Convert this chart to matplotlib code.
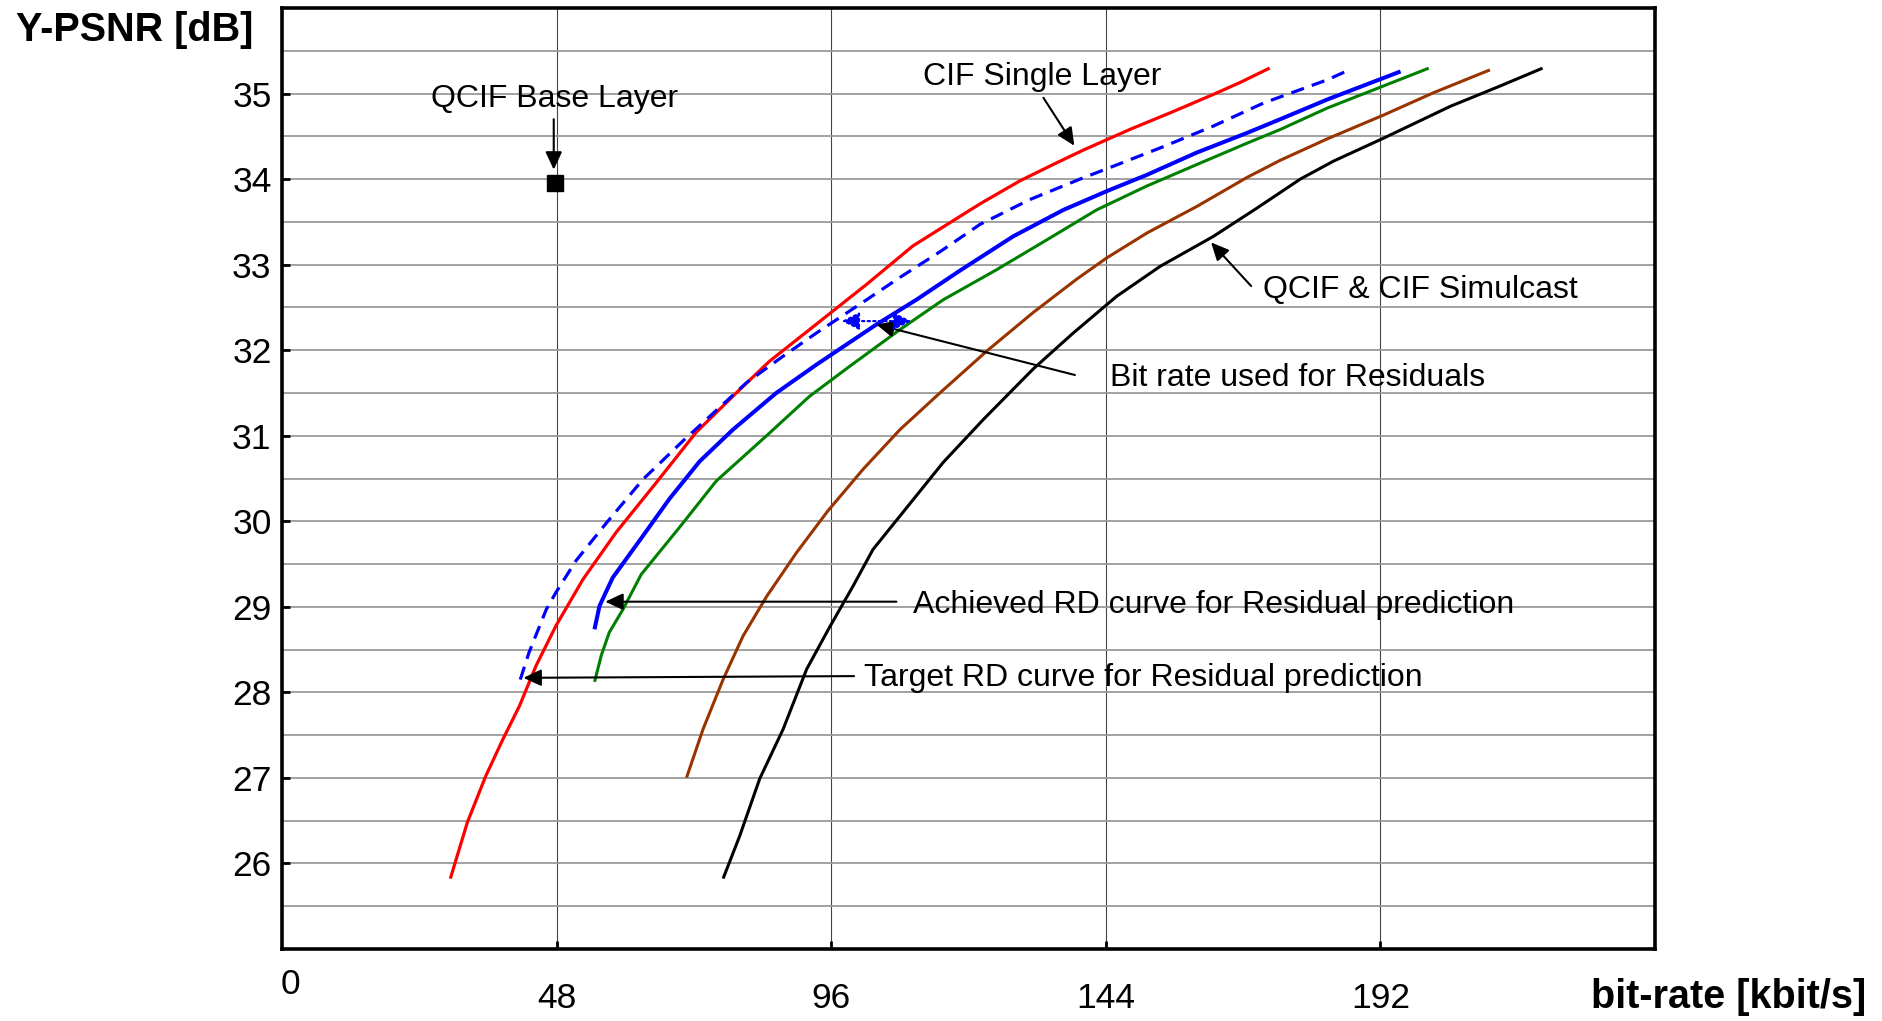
import matplotlib
matplotlib.use('Agg')
import matplotlib.pyplot as plt
import numpy as np

# curves: bit-rate [kbit/s] / Y-PSNR [dB]
red_x = [29.5, 32.4, 35.6, 38.6, 41.5, 44.4, 47.9, 52.6, 58.4, 65.4, 72.4, 79.4, 85.2, 92.2,
         102.2, 110.3, 122.0, 129.0, 135.4, 140.1, 148.2, 155.8, 162.8, 167.5, 172.4]
red_y = [25.84, 26.48, 27.02, 27.45, 27.84, 28.31, 28.78, 29.32, 29.87, 30.45, 31.04, 31.50, 31.87, 32.24,
         32.77, 33.22, 33.71, 33.98, 34.19, 34.34, 34.58, 34.79, 34.99, 35.13, 35.29]

target_x = [41.65, 43.2, 46.2, 47.9, 51.4, 56.7, 63.1, 70.1, 81.2, 87.6, 93.4, 102.2, 108.0, 115.0,
            122.0, 130.7, 139.5, 145.3, 154.1, 162.8, 171.6, 182.7, 187.0]
target_y = [28.15, 28.47, 28.97, 29.17, 29.54, 29.98, 30.49, 30.94, 31.62, 31.93, 32.20, 32.59, 32.85, 33.15,
            33.47, 33.76, 34.00, 34.15, 34.38, 34.62, 34.89, 35.16, 35.29]

achieved_x = [54.7, 55.5, 57.8, 63.1, 67.7, 73.0, 78.8, 86.4, 93.4, 99.2, 103.9, 110.9, 118.5, 127.8,
              136.6, 144.2, 151.2, 159.9, 168.7, 174.5, 182.7, 195.2]
achieved_y = [28.76, 29.01, 29.34, 29.83, 30.26, 30.70, 31.07, 31.50, 31.83, 32.09, 32.30, 32.59, 32.93, 33.33,
              33.64, 33.86, 34.05, 34.31, 34.54, 34.70, 34.93, 35.25]

green_x = [54.7, 55.8, 57.2, 59.6, 62.8, 69.5, 75.9, 84.7, 92.2, 99.2, 108.0, 115.6, 124.9, 133.7,
           142.4, 151.2, 159.9, 168.7, 174.5, 182.7, 200.2]
green_y = [28.14, 28.43, 28.70, 28.97, 29.38, 29.93, 30.47, 31.00, 31.46, 31.81, 32.24, 32.59, 32.94, 33.29,
           33.64, 33.92, 34.17, 34.42, 34.58, 34.83, 35.29]

brown_x = [70.8, 73.6, 77.1, 80.6, 84.7, 89.9, 95.4, 101.6, 108.0, 115.0, 123.2, 131.3, 138.9, 144.2,
           151.2, 159.9, 168.7, 174.5, 182.7, 192.6, 201.3, 210.9]
brown_y = [27.02, 27.57, 28.15, 28.66, 29.12, 29.63, 30.12, 30.61, 31.07, 31.50, 31.99, 32.44, 32.83, 33.08,
           33.37, 33.68, 34.02, 34.22, 34.47, 34.75, 35.01, 35.27]

simulcast_x = [77.2, 80.0, 83.5, 87.6, 91.7, 95.7, 99.8, 103.3, 108.0, 115.6, 122.6, 131.3, 138.3, 145.9,
               153.5, 162.8, 170.4, 178.0, 183.8, 192.6, 204.2, 213.0, 220.1]
simulcast_y = [25.84, 26.32, 26.99, 27.57, 28.27, 28.76, 29.24, 29.67, 30.06, 30.69, 31.19, 31.78, 32.20, 32.63,
               32.98, 33.33, 33.66, 34.00, 34.21, 34.48, 34.85, 35.09, 35.29]

base_x = [47.7]
base_y = [33.95]

x_ticks = [48, 96, 144, 192]
y_ticks = [26, 27, 28, 29, 30, 31, 32, 33, 34, 35]

plt.rcParams['font.family'] = ['Liberation Sans', 'DejaVu Sans']

W, H = 1883, 1021
fig = plt.figure(figsize=(W / 100, H / 100), dpi=100)
ax = fig.add_axes([282 / W, 1 - 949 / H, (1655 - 282) / W, (949 - 8) / H])

ax.set_xlim(0, 240)
ax.set_ylim(25, 36)
ax.set_xticks(x_ticks)
ax.set_xticklabels([str(t) for t in x_ticks])
ax.set_yticks(y_ticks)
ax.set_yticklabels([str(t) for t in y_ticks])
ax.set_yticks(np.arange(25.5, 36, 0.5), minor=True)
ax.tick_params(axis='y', which='minor', length=0)
ax.tick_params(axis='both', which='major', direction='in', length=6, width=2,
               labelsize=25.5)
ax.tick_params(axis='x', pad=23.5)
ax.tick_params(axis='y', pad=7.5)
ax.grid(axis='y', which='both', color='#9a9a9a', lw=1.3)
ax.grid(axis='x', which='major', color='#444444', lw=0.8)
ax.set_axisbelow(True)
for s in ax.spines.values():
    s.set_linewidth(2.6)

# the "0" sits a little higher than the other x labels
ax.annotate('0', xy=(0, 0), xycoords='axes fraction', xytext=(6, -14),
            textcoords='offset points', ha='center', va='top', fontsize=25.5)

ax.plot(red_x, red_y, color='#ff0000', lw=2.3, zorder=3)
ax.plot(target_x, target_y, color='#0000ff', lw=2.3, dashes=(4.2, 2.6), zorder=3)
ax.plot(achieved_x, achieved_y, color='#0000ff', lw=2.9, zorder=3)
ax.plot(green_x, green_y, color='#008000', lw=2.2, zorder=3)
ax.plot(brown_x, brown_y, color='#993300', lw=2.2, zorder=3)
ax.plot(simulcast_x, simulcast_y, color='black', lw=2.2, zorder=3)
ax.plot(base_x, base_y, 's', color='black', ms=12, zorder=4)

fs = 23
head = dict(arrowstyle='-|>,head_length=0.6,head_width=0.28', mutation_scale=18,
            color='black', lw=1.5, shrinkA=0, shrinkB=0)


def arrow(tail, tip, **kw):
    props = dict(head)
    props.update(kw)
    ax.annotate('', xy=tip, xytext=tail, arrowprops=props, zorder=5)


ax.text(47.7, 34.84, 'QCIF Base Layer', fontsize=fs, ha='center', va='baseline')
arrow((47.5, 34.70), (47.5, 34.11))

ax.text(132.9, 35.105, 'CIF Single Layer', fontsize=fs, ha='center', va='baseline')
arrow((133.1, 34.95), (138.5, 34.39))

ax.text(171.4, 32.61, 'QCIF & CIF Simulcast', fontsize=fs, ha='left', va='baseline')
arrow((169.4, 32.75), (162.4, 33.26))

ax.text(144.7, 31.58, 'Bit rate used for Residuals', fontsize=fs, ha='left', va='baseline')
arrow((138.6, 31.71), (103.9, 32.30))

ax.annotate('', xy=(97.8, 32.34), xytext=(110.0, 32.34),
            arrowprops=dict(arrowstyle='<|-|>,head_length=0.6,head_width=0.3', mutation_scale=18,
                            color='#0000ff', lw=1.6, linestyle=(0, (1, 1.5)), shrinkA=0, shrinkB=0),
            zorder=5)

ax.text(110.3, 28.93, 'Achieved RD curve for Residual prediction', fontsize=fs, ha='left', va='baseline')
arrow((107.4, 29.06), (56.5, 29.06))

ax.text(101.8, 28.08, 'Target RD curve for Residual prediction', fontsize=fs, ha='left', va='baseline')
arrow((100.0, 28.19), (42.2, 28.17))

fig.text(16 / W, 1 - 41 / H, 'Y-PSNR [dB]', fontsize=28.5, fontweight='bold', ha='left', va='baseline')
fig.text(1866 / W, 1 - 1008 / H, 'bit-rate [kbit/s]', fontsize=28.5, fontweight='bold', ha='right', va='baseline')

fig.savefig('out.png', dpi=100)
